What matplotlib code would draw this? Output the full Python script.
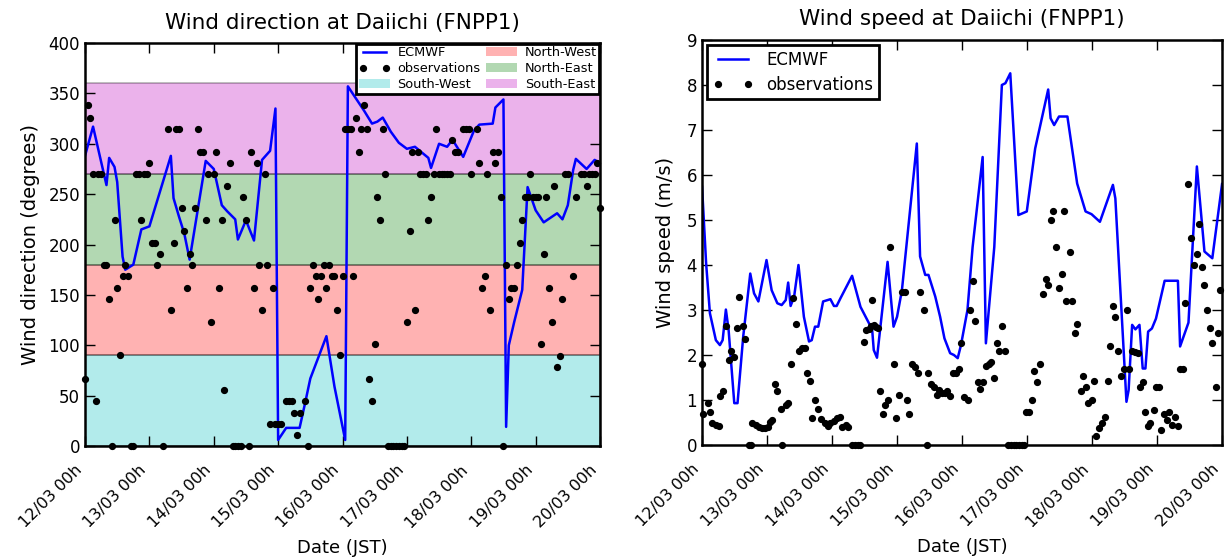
import numpy as np
import pandas as pd
import matplotlib
matplotlib.use('Agg')
import matplotlib.pyplot as plt
import matplotlib.dates as mdates
import matplotlib.patches as mpatches
from matplotlib.lines import Line2D

start = pd.Timestamp('2011-03-12 00:00')

# ECMWF wind direction (hours since 12/03 00h, degrees)
ecmwf_dir_h = [0, 3, 8, 9, 11, 12, 14, 15, 18, 21, 24, 32, 33, 35, 37, 39, 45, 48, 51, 53,
               56, 57, 60, 63, 66, 69, 71, 72, 75, 80, 82, 84, 90, 93, 97, 98, 101, 104, 107,
               109, 111, 114, 117, 120, 123, 128, 129, 132, 135, 137, 141, 145, 147, 152, 153,
               156, 157, 158, 160, 163, 165, 168, 171, 176, 178, 180, 182, 183, 187, 190, 192]
ecmwf_dir = [288, 317, 259, 286, 277, 262, 188, 175, 180, 215, 218, 288, 246, 228, 211, 185, 283,
             275, 239, 233, 225, 205, 224, 204, 284, 293, 335, 6, 18, 18, 42, 67, 109, 59, 6,
             357, 345, 333, 320, 322, 326, 312, 301, 295, 297, 286, 276, 300, 297, 304, 287, 313,
             319, 320, 336, 344, 19, 100, 123, 155, 257, 234, 222, 231, 225, 239, 274, 285, 275,
             284, 281]

# observed wind direction, one line per day
obs_dir_h = (list(range(0, 24))
             + [24, 25, 26, 27, 28, 29] + list(range(31, 48))
             + list(range(48, 72))
             + [72, 73] + list(range(75, 81)) + list(range(82, 96))
             + list(range(96, 120))
             + list(range(120, 140)) + [141, 142, 143]
             + [144] + list(range(146, 168))
             + list(range(168, 181)) + [182, 183] + list(range(185, 193)))
obs_dir = ([67, 338, 326, 270, 45, 270, 270, 180, 180, 146, 0, 224, 157, 90, 169, 180, 169, 0, 0,
            270, 270, 224, 270, 270]
           + [281, 202, 202, 180, 191, 0, 315, 135, 202, 315, 315, 236, 213, 157, 191, 180, 236,
              315, 292, 292, 224, 270, 123]
           + [270, 292, 157, 224, 56, 258, 281, 0, 0, 0, 0, 247, 224, 0, 292, 157, 281, 180, 135,
              270, 180, 22, 157, 22]
           + [22, 22, 45, 45, 45, 33, 11, 33, 45, 0, 157, 180, 169, 146, 169, 180, 157, 180, 169,
              169, 135, 90]
           + [169, 315, 315, 315, 169, 326, 292, 315, 338, 315, 67, 45, 101, 247, 224, 315, 270,
              0, 0, 0, 0, 0, 0, 0]
           + [123, 213, 292, 135, 292, 270, 270, 270, 224, 247, 270, 315, 270, 270, 270, 270, 270,
              304, 292, 292, 315, 315, 315]
           + [270, 315, 281, 157, 169, 270, 135, 292, 281, 292, 247, 0, 180, 146, 157, 157, 180,
              202, 224, 247, 247, 270, 247]
           + [247, 247, 101, 191, 247, 157, 123, 258, 78, 89, 146, 270, 270, 169, 247, 270, 270,
              258, 270, 270, 270, 281, 236])

# ECMWF wind speed (m/s)
ecmwf_spd_h = [0, 1.5, 2.9, 5.1, 6.6, 7.6, 8.8, 9.8, 11.9, 13.1, 15.2, 17.8, 19.2, 20.8, 23.8,
               25.7, 27.8, 29.4, 30.9, 31.8, 32.7, 34.0, 35.6, 37.6, 39.5, 40.5, 41.7, 42.9, 44.7,
               47.4, 48.7, 49.7, 51.1, 55.4, 58.5, 62.8, 63.4, 64.6, 68.5, 70.7, 72.0, 73.8, 79.3,
               80.5, 82.4, 83.6, 86.1, 87.9, 89.5, 91.6, 93.0, 94.4, 95.6, 98.0, 99.9, 103.6,
               104.8, 107.9, 110.7, 112.0, 113.8, 116.8, 119.9, 123.0, 127.8, 128.7, 130.0, 131.8,
               134.9, 138.5, 141.6, 143.8, 146.9, 151.7, 152.6, 156.7, 157.5, 158.8, 160.0, 161.5,
               162.7, 163.7, 164.7, 166.1, 167.6, 170.8, 175.7, 176.5, 179.6, 182.7, 185.5, 188.4,
               192.0]
ecmwf_spd = [5.74, 4.04, 2.93, 2.33, 2.22, 2.33, 3.01, 2.56, 0.93, 0.93, 2.41, 3.81, 3.37, 3.19,
             4.11, 3.44, 3.15, 3.11, 3.22, 3.61, 3.09, 3.30, 4.00, 2.85, 2.30, 2.33, 2.63, 2.63,
             3.19, 3.24, 3.09, 3.09, 3.26, 3.76, 3.07, 2.57, 2.11, 1.94, 4.07, 2.63, 2.85, 3.44,
             6.70, 4.19, 3.78, 3.78, 3.30, 2.85, 2.37, 2.04, 2.00, 1.93, 2.22, 3.00, 4.40, 6.40,
             2.26, 4.40, 8.00, 8.04, 8.26, 5.11, 5.19, 6.59, 7.90, 7.26, 7.11, 7.30, 7.30, 5.81,
             5.19, 5.13, 4.96, 5.78, 5.48, 0.96, 1.22, 2.67, 2.57, 2.67, 1.70, 1.70, 2.52, 2.59,
             2.81, 3.65, 3.65, 2.19, 2.72, 6.19, 4.30, 4.15, 5.80]

# observed wind speed (m/s)
obs_spd_h = [0.0, 0.5, 2.1, 2.9, 3.7, 5.1, 6.1, 6.6, 7.8, 8.8, 9.8, 10.7, 11.9, 12.9, 13.7, 15.0,
             15.9, 17.4, 18.2, 18.6, 19.9, 21.1, 22.1, 23.3, 24.2, 25.0, 25.7, 27.0, 27.8, 29.0,
             29.7, 30.9, 31.8, 32.7, 33.7, 34.8, 35.8, 37.0, 38.0, 38.9, 39.7, 40.7, 41.7, 42.9,
             44.1, 45.4, 46.6, 47.4, 48.7, 49.9, 51.1, 51.7, 53.0, 53.9, 55.4, 56.6, 57.5, 58.5,
             59.7, 60.6, 61.5, 62.5, 62.9, 63.4, 64.2, 65.0, 65.8, 66.7, 67.7, 68.7, 69.5, 70.7,
             71.6, 72.6, 73.8, 74.8, 75.6, 76.5, 77.5, 78.7, 79.7, 80.5, 81.8, 82.9, 83.6, 84.6,
             85.8, 86.6, 87.5, 88.5, 89.6, 90.5, 91.4, 92.6, 93.8, 94.8, 95.6, 96.9, 98.1, 98.9,
             99.9, 100.9, 101.8, 102.6, 103.6, 104.8, 105.8, 106.7, 107.9, 108.9, 109.7, 110.7,
             111.9, 113, 114, 115, 116, 117, 118, 119, 119.5, 120.8, 121.7, 122.6, 123.8, 124.7,
             125.9, 126.9, 127.9, 128.7, 129.7, 130.8, 131.8, 132.8, 133.6, 134.5, 135.7, 136.7,
             137.7, 138.5, 139.8, 140.7, 141.6, 142.6, 143.8, 144.7, 145.5, 146.5, 147.5, 148.6,
             149.9, 150.8, 151.7, 152.6, 153.6, 154.8, 155.7, 156.9, 157.5, 158.8, 160.0, 161.0,
             161.8, 162.7, 163.7, 164.7, 165.5, 166.7, 167.6, 168.6, 169.6, 170.4, 171.6, 172.5,
             173.5, 174.7, 175.7, 176.5, 177.4, 178.4, 179.4, 180.6, 181.5, 182.7, 183.5, 184.5,
             185.5, 186.4, 187.6, 188.4, 189.7, 190.4, 191.3]
obs_spd = [1.79, 0.70, 0.94, 0.74, 0.50, 0.44, 0.42, 1.09, 1.19, 2.64, 1.89, 2.10, 1.95, 2.59,
           3.30, 2.64, 2.35, 0, 0, 0.50, 0.44, 0.41, 0.37, 0.37, 0.39, 0.52, 0.56, 1.36, 1.19,
           0.80, 0, 0.89, 0.93, 1.79, 3.26, 2.70, 2.10, 2.15, 2.15, 1.59, 1.43, 0.59, 0.99, 0.80,
           0.57, 0.48, 0.42, 0.48, 0.54, 0.59, 0.63, 0.41, 0.44, 0.41, 0, 0, 0, 0, 2.30, 2.56,
           2.57, 2.64, 3.22, 2.67, 2.63, 2.59, 1.21, 0.70, 0.89, 1.00, 4.40, 1.81, 0.61, 1.11,
           3.41, 3.41, 1.00, 0.70, 1.81, 1.74, 1.61, 3.41, 3.00, 0, 1.59, 1.35, 1.30, 1.11, 1.22,
           1.16, 1.15, 1.19, 1.09, 1.59, 1.61, 1.70, 2.26, 1.06, 1.00, 3.01, 3.65, 2.76, 1.41,
           1.24, 1.41, 1.76, 1.81, 1.85, 1.48, 2.26, 2.10, 2.64, 2.10, 0, 0, 0, 0, 0, 0, 0, 0.74,
           0.74, 1.00, 1.64, 1.41, 1.79, 3.36, 3.70, 3.56, 5.01, 5.21, 4.41, 3.50, 3.80, 5.21,
           3.21, 4.30, 3.21, 2.50, 2.70, 1.19, 1.54, 1.30, 0.94, 1.00, 1.43, 0.19, 0.37, 0.50,
           0.63, 1.43, 2.20, 3.09, 2.84, 2.10, 1.54, 1.70, 3.00, 1.70, 2.10, 2.07, 2.04, 1.30,
           1.41, 0.74, 0.42, 0.48, 0.78, 1.30, 1.30, 0.33, 0.69, 0.56, 0.74, 0.44, 0.63, 0.42,
           1.70, 1.70, 3.15, 5.81, 4.61, 4.00, 4.24, 4.91, 3.95, 3.56, 3.00, 2.59, 2.26, 1.30,
           2.50, 3.44]

sectors = ['South-West', 'North-West', 'North-East', 'South-East']
sector_lo = [0, 90, 180, 270]
sector_hi = [90, 180, 270, 360]
sector_col = [(0, 0.75, 0.75), (1, 0, 0), (0, 0.5, 0), (0.75, 0, 0.75)]


def to_dates(hours):
    return start + pd.to_timedelta(np.asarray(hours, dtype=float), unit='h')


def style_axis(ax):
    ax.set_xlim(start, start + pd.Timedelta(hours=192))
    ax.xaxis.set_major_locator(mdates.DayLocator())
    ax.xaxis.set_major_formatter(mdates.DateFormatter('%d/%m %Hh'))
    ax.tick_params(direction='in', top=True, right=True, length=7, width=1,
                   labelsize=12)
    ax.tick_params(axis='x', labelsize=11.5, pad=12)
    for lbl in ax.get_xticklabels():
        lbl.set_rotation(45)
        lbl.set_ha('right')
    for s in ax.spines.values():
        s.set_linewidth(1.8)
    ax.set_xlabel('Date (JST)', fontsize=13, labelpad=6)


fig = plt.figure(figsize=(12.25, 5.58), dpi=100)
ax1 = fig.add_axes([0.0694, 0.2007, 0.4204, 0.7222])
ax2 = fig.add_axes([0.5731, 0.2025, 0.4245, 0.7258])

# --- wind direction
handles_sec = []
for name, lo, hi, c in zip(sectors, sector_lo, sector_hi, sector_col):
    ax1.axhspan(lo, hi, facecolor=c, edgecolor='k', alpha=0.3, lw=1.2)
    handles_sec.append(mpatches.Patch(facecolor=c, edgecolor='none', alpha=0.3, label=name))

ax1.plot(to_dates(ecmwf_dir_h), ecmwf_dir, color='b', lw=1.8)
ax1.plot(to_dates(obs_dir_h), obs_dir, 'ko', ms=4.2, ls='none', clip_on=False, zorder=3)
ax1.set_ylim(0, 400)
ax1.set_yticks(range(0, 401, 50))
style_axis(ax1)
ax1.set_ylabel('Wind direction (degrees)', fontsize=14, labelpad=6)
ax1.set_title('Wind direction at Daiichi (FNPP1)', fontsize=15.5, pad=10)

h_line = Line2D([], [], color='b', lw=1.8, label='ECMWF')
h_obs = Line2D([], [], color='k', marker='o', ms=4.2, ls='none', label='observations')
leg1 = ax1.legend(handles=[h_line, h_obs, handles_sec[0], handles_sec[1], handles_sec[2],
                           handles_sec[3]],
                  loc='upper right', ncol=2, fontsize=9.3, numpoints=2, fancybox=False,
                  borderaxespad=0.05, borderpad=0.2, labelspacing=0.22, columnspacing=0.4,
                  handlelength=2.4, handletextpad=0.6, framealpha=1)
leg1.get_frame().set_edgecolor('k')
leg1.get_frame().set_linewidth(2)

# --- wind speed
ax2.plot(to_dates(ecmwf_spd_h), ecmwf_spd, color='b', lw=1.8, label='ECMWF')
ax2.plot(to_dates(obs_spd_h), obs_spd, 'ko', ms=4.2, ls='none', clip_on=False, zorder=3,
         label='observations')
ax2.set_ylim(0, 9)
ax2.set_yticks(range(0, 10))
style_axis(ax2)
ax2.set_ylabel('Wind speed (m/s)', fontsize=14, labelpad=8)
ax2.set_title('Wind speed at Daiichi (FNPP1)', fontsize=15.5, pad=11)
leg2 = ax2.legend(loc='upper left', fontsize=12, numpoints=2, fancybox=False,
                  borderaxespad=0.3, borderpad=0.35, labelspacing=0.4, handlelength=2.4,
                  framealpha=1)
leg2.get_frame().set_edgecolor('k')
leg2.get_frame().set_linewidth(2)

fig.savefig('out.png', dpi=100)
